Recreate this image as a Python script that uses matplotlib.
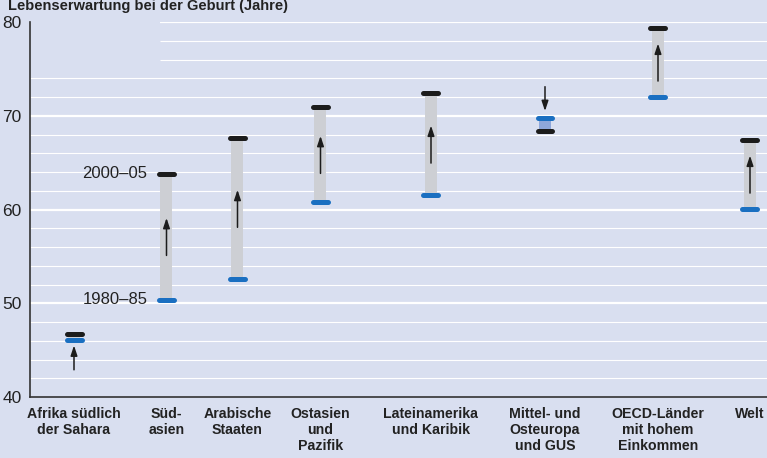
import matplotlib
matplotlib.use("Agg")
import matplotlib.pyplot as plt
from matplotlib import font_manager

# --- data -------------------------------------------------------------
regions = [
    "Afrika südlich\nder Sahara",
    "Süd-\nasien",
    "Arabische\nStaaten",
    "Ostasien\nund\nPazifik",
    "Lateinamerika\nund Karibik",
    "Mittel- und\nOsteuropa\nund GUS",
    "OECD-Länder\nmit hohem\nEinkommen",
    "Welt",
]
life_1980_85 = [46.1, 50.4, 52.6, 60.8, 61.5, 69.8, 72.0, 60.1]
life_2000_05 = [46.7, 63.8, 67.6, 70.9, 72.4, 68.4, 79.4, 67.4]
y_ticks = [40, 50, 60, 70, 80]
title = "Lebenserwartung bei der Geburt (Jahre)"

# --- layout / style ---------------------------------------------------
x_pos = [44, 136.5, 207.5, 290.5, 401, 515, 628, 720]   # pixel offsets from axis
BG = "#d9dff0"
GREY_BAR = "#cdcfd4"
DOWN_BAR = "#8ea7da"
BLACK = "#1c1c1c"
BLUE = "#1a6fc1"
AXIS = "#333333"

names = {f.name for f in font_manager.fontManager.ttflist}
FONT = ["Liberation Sans Narrow"] if "Liberation Sans Narrow" in names else ["Liberation Sans"]
plt.rcParams["font.family"] = FONT + ["DejaVu Sans"]

W, H = 767, 458
fig = plt.figure(figsize=(W / 100, H / 100), dpi=100)
fig.patch.set_facecolor(BG)
ax = fig.add_axes([30 / W, 61 / H, (W - 30) / W, 375 / H])
ax.set_facecolor(BG)
ax.set_xlim(0, W - 30)
ax.set_ylim(40, 80)

# grid: white lines every 2 years, heavier every 10
for v in range(42, 81, 2):
    xmin = 130 if v >= 76 else 0
    lw = 1.6 if v % 10 == 0 else 0.8
    ax.hlines(v, xmin, W - 30, color="white", lw=lw, zorder=1)

for sp in ["top", "right"]:
    ax.spines[sp].set_visible(False)
for sp in ["left", "bottom"]:
    ax.spines[sp].set_color(AXIS)
    ax.spines[sp].set_linewidth(1.2)
    ax.spines[sp].set_zorder(5)

ax.set_yticks(y_ticks)
ax.set_yticklabels([str(t) for t in y_ticks], fontsize=12.5, color="#222222")
ax.tick_params(axis="y", length=0, pad=6)
ax.set_xticks([])

cap_half = 7.5
for x, a, b in zip(x_pos, life_1980_85, life_2000_05):
    lo, hi = min(a, b), max(a, b)
    ax.bar(x, hi - lo, bottom=lo, width=12,
           color=GREY_BAR if b >= a else DOWN_BAR, zorder=2)
    ax.plot([x - cap_half, x + cap_half], [b, b], color=BLACK, lw=3.6,
            solid_capstyle="round", zorder=4)
    ax.plot([x - cap_half, x + cap_half], [a, a], color=BLUE, lw=3.6,
            solid_capstyle="round", zorder=4)

    span = hi - lo
    if span > 5:
        mid = (a + b) / 2
        start, end = mid - 2 * (1 if b > a else -1), mid + 2 * (1 if b > a else -1)
    elif b >= a:
        start, end = a - 3.2, a - 0.6
    else:
        start, end = a + 3.3, a + 0.7
    ax.annotate("", xy=(x, end), xytext=(x, start),
                arrowprops=dict(arrowstyle="-|>,head_length=0.6,head_width=0.2",
                                color=BLACK, lw=1.1, shrinkA=0, shrinkB=0),
                zorder=6)

# period labels next to the Süd-asien caps
ax.text(x_pos[1] - 19, life_2000_05[1], "2000–05", ha="right", va="center",
        fontsize=12, color="#222222")
ax.text(x_pos[1] - 19, life_1980_85[1], "1980–85", ha="right", va="center",
        fontsize=12, color="#222222")

for x, lab in zip(x_pos, regions):
    ax.text(x, 38.9, lab, ha="center", va="top", fontsize=10.2, fontweight="bold",
            color="#222222", linespacing=1.18)

fig.text(8 / W, 1 - 10 / H, title, ha="left", va="baseline", fontsize=10.5,
         fontweight="bold", color="#222222")

fig.savefig("out.png", dpi=100, facecolor=BG)
